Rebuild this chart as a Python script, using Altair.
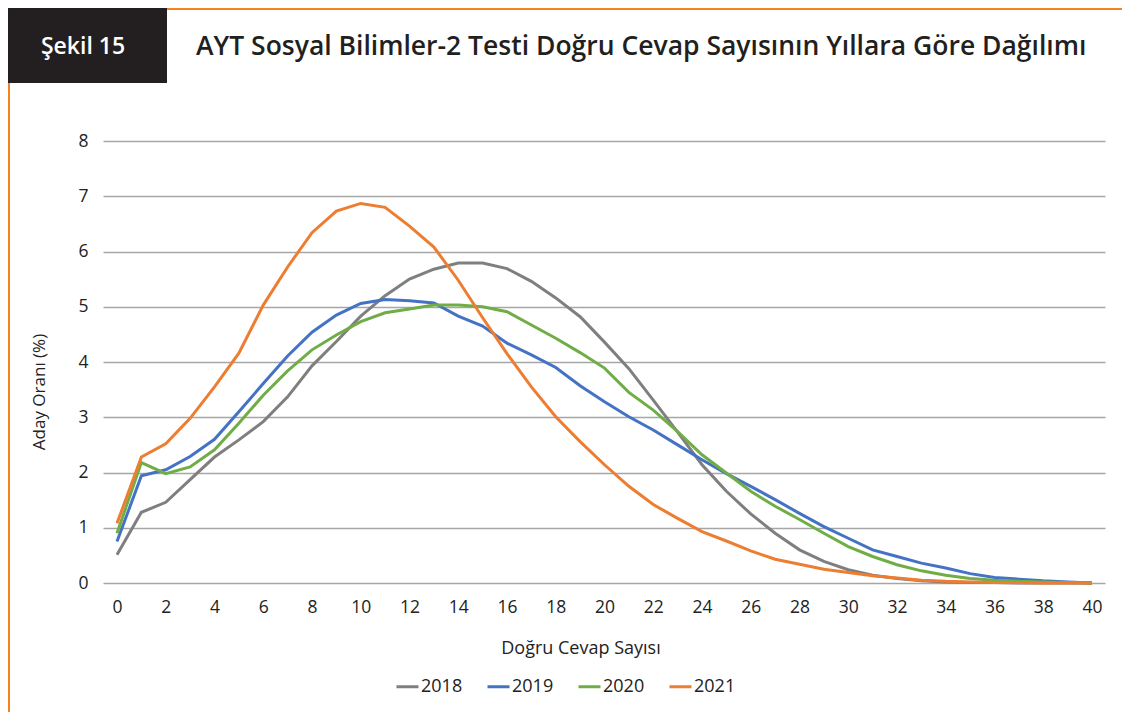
import altair as alt
import pandas as pd

# ---- data ----
dogru = list(range(41))
y2018 = [0.51, 1.28, 1.46, 1.87, 2.28, 2.59, 2.92, 3.37, 3.93, 4.37, 4.83, 5.20, 5.50, 5.68, 5.79, 5.79,
         5.69, 5.46, 5.16, 4.82, 4.36, 3.88, 3.31, 2.73, 2.14, 1.66, 1.25, 0.90, 0.60, 0.39, 0.24, 0.14,
         0.08, 0.04, 0.02, 0.01, 0.01, 0.0, 0.0, 0.0, 0.0]
y2019 = [0.75, 1.94, 2.05, 2.29, 2.60, 3.10, 3.61, 4.11, 4.54, 4.85, 5.06, 5.13, 5.11, 5.07, 4.83, 4.65,
         4.34, 4.13, 3.90, 3.57, 3.28, 3.01, 2.77, 2.50, 2.23, 1.98, 1.75, 1.51, 1.26, 1.02, 0.81, 0.60,
         0.48, 0.36, 0.27, 0.17, 0.10, 0.07, 0.04, 0.02, 0.0]
y2020 = [0.90, 2.18, 1.98, 2.10, 2.41, 2.89, 3.40, 3.84, 4.22, 4.49, 4.73, 4.89, 4.96, 5.03, 5.03, 5.00,
         4.91, 4.67, 4.43, 4.17, 3.89, 3.45, 3.13, 2.74, 2.32, 1.99, 1.66, 1.39, 1.15, 0.90, 0.66, 0.48,
         0.33, 0.22, 0.14, 0.08, 0.05, 0.03, 0.02, 0.01, 0.0]
y2021 = [1.08, 2.28, 2.52, 2.98, 3.55, 4.16, 5.03, 5.72, 6.34, 6.73, 6.87, 6.80, 6.46, 6.08, 5.48, 4.80,
         4.15, 3.55, 3.01, 2.56, 2.14, 1.75, 1.42, 1.17, 0.93, 0.76, 0.58, 0.43, 0.34, 0.25, 0.19, 0.13,
         0.09, 0.05, 0.03, 0.02, 0.01, 0.01, 0.0, 0.0, 0.0]
years = ["2018", "2019", "2020", "2021"]
colors = ["#7f7f7f", "#4472c4", "#70ad47", "#ed7d31"]
x_ticks = list(range(0, 41, 2))
y_ticks = list(range(0, 9))

title_text = "AYT Sosyal Bilimler-2 Testi Doğru Cevap Sayısının Yıllara Göre Dağılımı"
box_text = "Şekil 15"
x_title = "Doğru Cevap Sayısı"
y_title = "Aday Oranı (%)"

rows = []
for yr, vals in zip(years, [y2018, y2019, y2020, y2021]):
    for d, v in zip(dogru, vals):
        rows.append({"dogru": d, "oran": v, "yil": yr})
df = pd.DataFrame(rows)

W, H = 1002, 442
AX_FONT = "Open Sans"
TXT = "#222222"

lines = alt.Chart(df).mark_line(strokeWidth=3).encode(
    x=alt.X("dogru:Q",
            scale=alt.Scale(domain=[-0.574, 40.533], nice=False, zero=False),
            axis=alt.Axis(values=x_ticks, title=None, grid=False, domain=False, ticks=False,
                          labelFont=AX_FONT, labelFontSize=17.5, labelColor=TXT, labelPadding=15)),
    y=alt.Y("oran:Q",
            scale=alt.Scale(domain=[0, 8], nice=False),
            axis=alt.Axis(values=y_ticks, title=None, grid=True, gridColor="#a6a6a6", gridWidth=1.3,
                          domain=False, ticks=False, labelFont=AX_FONT, labelFontSize=17.5,
                          labelColor=TXT, labelPadding=15)),
    color=alt.Color("yil:N",
                    scale=alt.Scale(domain=years, range=colors),
                    legend=alt.Legend(orient="none", legendX=292, legendY=533, direction="horizontal",
                                      title=None, symbolType="stroke", symbolStrokeWidth=3,
                                      symbolSize=484, labelFont=AX_FONT, labelFontSize=18,
                                      labelColor=TXT, labelOffset=1, columnPadding=18)),
)

one = pd.DataFrame({"k": [0]})
base = alt.Chart(one)

box = base.mark_rect(color="#231f20").encode(
    x=alt.value(-95), x2=alt.value(64), y=alt.value(-133), y2=alt.value(-58))
top_line = base.mark_rule(color="#f58220", strokeWidth=2).encode(
    x=alt.value(64), x2=alt.value(1019), y=alt.value(-132), y2=alt.value(-132))
left_line = base.mark_rule(color="#f58220", strokeWidth=2).encode(
    x=alt.value(-94), x2=alt.value(-94), y=alt.value(-58), y2=alt.value(571))
box_lbl = base.mark_text(text=box_text, font="Open Sans", fontWeight=600, fontSize=23,
                         color="white", align="center", baseline="middle").encode(
    x=alt.value(-20), y=alt.value(-94))
title_lbl = base.mark_text(text=title_text, font="Open Sans", fontWeight=600, fontSize=26.5,
                           color="#231f20", align="left", baseline="middle").encode(
    x=alt.value(93), y=alt.value(-94))
xt = base.mark_text(text=x_title, font=AX_FONT, fontSize=18, color=TXT,
                    align="center", baseline="middle").encode(x=alt.value(478), y=alt.value(508))
yt = base.mark_text(text=y_title, font=AX_FONT, fontSize=17, color=TXT, angle=270,
                    align="center", baseline="middle").encode(x=alt.value(-63), y=alt.value(251))

chart = alt.layer(lines, box, top_line, left_line, box_lbl, title_lbl, xt, yt).properties(
    width=W, height=H,
    padding={"left": 95, "top": 133, "right": 17, "bottom": 129},
    autosize=alt.AutoSizeParams(type="none"),
).configure_view(stroke=None)

chart.save("out.html", embed_options={"renderer": "svg", "actions": False})
